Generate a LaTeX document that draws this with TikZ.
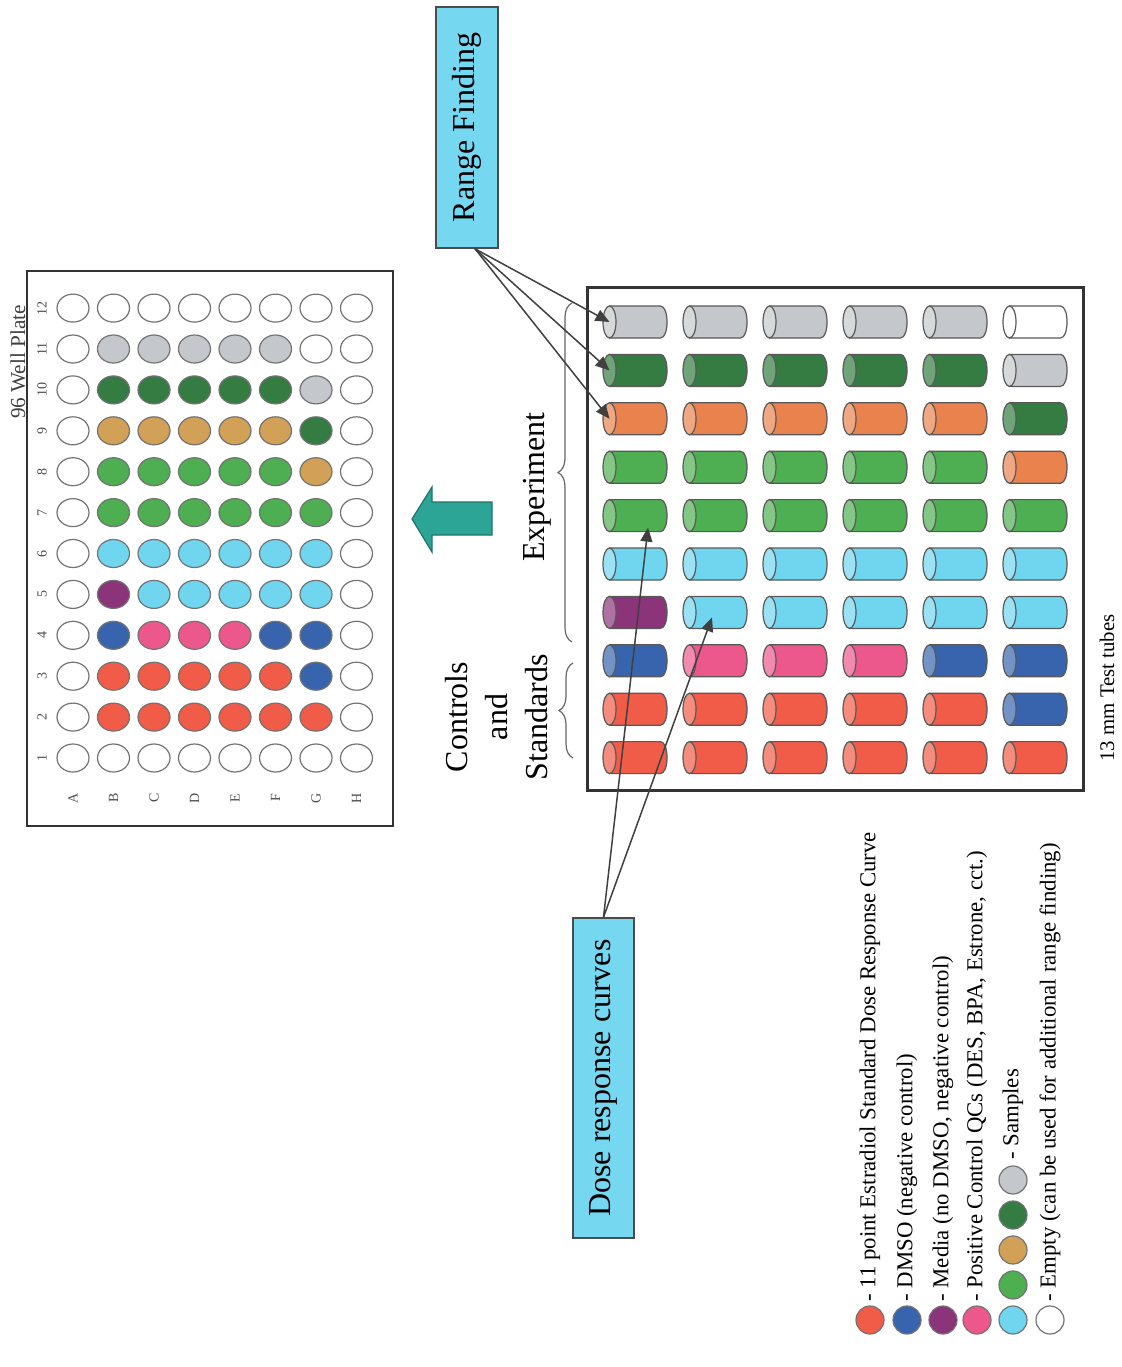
\documentclass[tikz,border=0pt]{standalone}
\usepackage{fontspec}
\setmainfont{Liberation Serif}
\usetikzlibrary{shapes.geometric,decorations.pathreplacing,arrows.meta,calc}
\definecolor{cR}{RGB}{240,92,72}
\definecolor{cU}{RGB}{55,100,172}
\definecolor{cP}{RGB}{140,52,122}
\definecolor{cK}{RGB}{236,88,140}
\definecolor{cC}{RGB}{112,214,240}
\definecolor{cG}{RGB}{78,174,82}
\definecolor{cT}{RGB}{210,160,86}
\definecolor{cD}{RGB}{52,124,66}
\definecolor{cY}{RGB}{196,200,204}
\definecolor{cW}{RGB}{255,255,255}
\definecolor{cO}{RGB}{234,130,78}
\definecolor{boxcyan}{RGB}{118,216,240}
\definecolor{arrowteal}{RGB}{44,164,150}
\definecolor{inkgray}{RGB}{64,64,64}

\newcommand\wellcol[3]{%
  \foreach \c [count=\n] in {#3}{%
    \node[well,fill=c\c] (w-#1-\n) at ({73+40.5*#2},{758-(\n-1)*40.9}) {};}}
\newcommand\tubeshape[4]{%
  \node[tubebox] (#1) at ({#2},{#3}) {};
  \filldraw[fill=#4, tubeline] ($(#1)+(-25.5,-16)$) -- ($(#1)+(25.5,-16)$)
    .. controls ($(#1)+(34.2,-16)$) and ($(#1)+(34.2,16)$) .. ($(#1)+(25.5,16)$)
    -- ($(#1)+(-25.5,16)$) -- cycle;
  \filldraw[fill=#4!70!white, tubeline] ($(#1)+(-25.5,0)$) ellipse [x radius=6.5, y radius=16];
  \coordinate (#1-end) at ($(#1)+(-25.5,0)$);
}
\newcommand\tuberow[2]{%
  \foreach \c [count=\k] in {#2}{%
    \tubeshape{tube-#1-\k}{635+80*(\k-1)}{322+48.4*(#1-1)}{c\c}}}

\begin{document}
\begin{tikzpicture}[x=0.5pt,y=-0.5pt,
  well/.style={ellipse,draw=black!55,line width=0.6pt,minimum width=16pt,minimum height=14pt,inner sep=0pt},
  lwell/.style={circle,draw=black!55,line width=0.6pt,minimum size=14pt,inner sep=0pt},
  tubebox/.style={rectangle,minimum width=32pt,minimum height=16pt,inner sep=0pt},
  tubeline/.style={draw=black!65,line width=0.6pt},
  callout/.style={rectangle,draw=black!70,fill=boxcyan,line width=0.8pt,rotate=90,font=\fontsize{16}{19}\selectfont,inner sep=0pt},
  biglbl/.style={rotate=90,font=\fontsize{16}{20}\selectfont,align=center,inner sep=0pt},
  smalllbl/.style={rotate=90,font=\fontsize{7}{8}\selectfont,text=black!70,inner sep=0pt},
  legtxt/.style={rotate=90,anchor=west,font=\fontsize{11.4}{13}\selectfont,inner sep=0pt},
  conn/.style={draw=inkgray,line width=0.75pt,-{Triangle[length=7pt,width=6pt]}},
  bracestyle/.style={draw=black!60,line width=0.6pt,decorate,decoration={brace,amplitude=7pt}},
  frame/.style={draw=black!80,line width=1.1pt}]
\useasboundingbox (0,0) rectangle (1122,1367);

% ---- 96 well plate ----
\draw[frame] (27,271) rectangle (393,826);
\node[rotate=90,font=\fontsize{10.6}{12}\selectfont,text=black!75] (platetitle) at (18,362) {96 Well Plate};
\foreach \n in {1,...,12}
  \node[smalllbl] (num-\n) at (42,{758-(\n-1)*40.9}) {\n};
\foreach \L [count=\i from 0] in {A,B,C,D,E,F,G,H}
  \node[smalllbl] (let-\L) at ({73+40.5*\i},798) {\L};
\wellcol{A}{0}{W,W,W,W,W,W,W,W,W,W,W,W}
\wellcol{B}{1}{W,R,R,U,P,C,G,G,T,D,Y,W}
\wellcol{C}{2}{W,R,R,K,C,C,G,G,T,D,Y,W}
\wellcol{D}{3}{W,R,R,K,C,C,G,G,T,D,Y,W}
\wellcol{E}{4}{W,R,R,K,C,C,G,G,T,D,Y,W}
\wellcol{F}{5}{W,R,R,U,C,C,G,G,T,D,Y,W}
\wellcol{G}{6}{W,R,U,U,C,C,G,T,D,Y,W,W}
\wellcol{H}{7}{W,W,W,W,W,W,W,W,W,W,W,W}

% ---- transfer arrow ----
\filldraw[fill=arrowteal, draw=arrowteal!70!black, line width=0.6pt]
  (412,519) -- (432,487) -- (432,502) -- (492,502) -- (492,535) -- (432,535) -- (432,552) -- cycle;

% ---- test tube rack ----
\draw[frame,line width=1.5pt] (587,287) rectangle (1083,790);
\tuberow{1}{Y,Y,Y,Y,Y,W}
\tuberow{2}{D,D,D,D,D,Y}
\tuberow{3}{O,O,O,O,O,D}
\tuberow{4}{G,G,G,G,G,O}
\tuberow{5}{G,G,G,G,G,G}
\tuberow{6}{C,C,C,C,C,C}
\tuberow{7}{P,C,C,C,C,C}
\tuberow{8}{U,K,K,K,U,U}
\tuberow{9}{R,R,R,R,R,U}
\tuberow{10}{R,R,R,R,R,R}
\node[rotate=90,font=\fontsize{10.4}{12}\selectfont] (tt) at (1107,688) {13 mm Test tubes};

% ---- braces and labels ----
\draw[bracestyle] (572,642) -- (572,303);
\draw[bracestyle] (573,758) -- (573,663);
\node[biglbl] (exp) at (537,487) {Experiment};
\node[biglbl] (cs) at (497,717) {Controls\\and\\Standards};

% ---- callouts ----
\node[callout,minimum width=120.5pt,minimum height=31pt] (rf) at (467,127.5) {Range Finding};
\node[callout,minimum width=160pt,minimum height=30.5pt] (dr) at (603.5,1078) {Dose response curves};
\draw[conn] ($(rf.west)+(8,0)$) -- (tube-1-1-end);
\draw[conn] ($(rf.west)+(8,0)$) -- (tube-2-1-end);
\draw[conn] ($(rf.west)+(8,0)$) -- (tube-3-1-end);
\draw[conn] (dr.east) -- ($(tube-5-1)+(13,12)$);
\draw[conn] (dr.east) -- ($(tube-7-2)+(-3,5)$);

% ---- legend ----
\node[lwell,fill=cR] (lg-1) at (870,1320) {};
\node[legtxt] (lt-1) at (870,1302) {- 11 point Estradiol Standard Dose Response Curve};
\node[lwell,fill=cU] (lg-2) at (907,1320) {};
\node[legtxt] (lt-2) at (907,1302) {- DMSO (negative control)};
\node[lwell,fill=cP] (lg-3) at (943,1320) {};
\node[legtxt] (lt-3) at (943,1302) {- Media (no DMSO, negative control)};
\node[lwell,fill=cK] (lg-4) at (977,1320) {};
\node[legtxt] (lt-4) at (977,1302) {- Positive Control QCs (DES, BPA, Estrone, cct.)};
\node[lwell,fill=cC] (lg-5) at (1013,1320) {};
\node[lwell,fill=cG] (lg-5b) at (1013,1285) {};
\node[lwell,fill=cT] (lg-5c) at (1013,1250) {};
\node[lwell,fill=cD] (lg-5d) at (1013,1215) {};
\node[lwell,fill=cY] (lg-5e) at (1013,1180) {};
\node[legtxt] (lt-5) at (1013,1160) {- Samples};
\node[lwell,fill=cW] (lg-6) at (1050,1320) {};
\node[legtxt] (lt-6) at (1050,1302) {- Empty (can be used for additional range finding)};
\end{tikzpicture}
\end{document}
